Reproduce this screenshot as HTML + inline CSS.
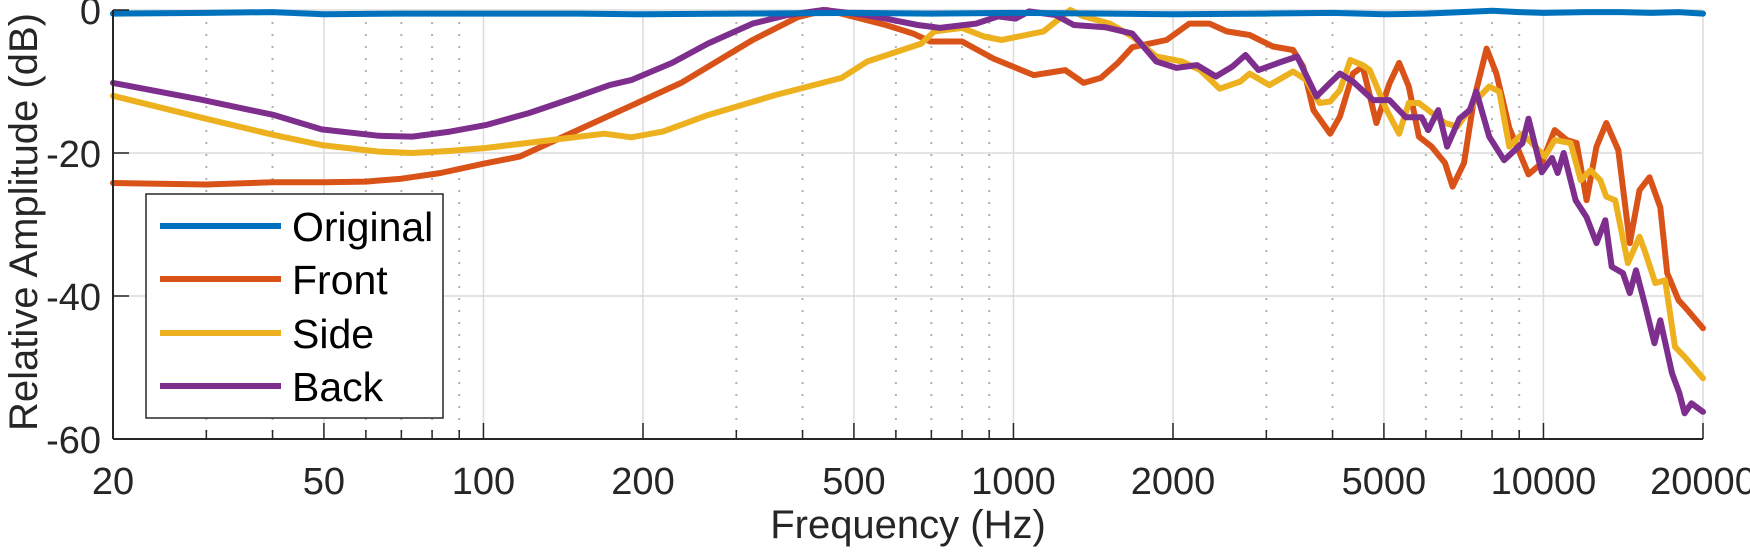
<!DOCTYPE html>
<html><head><meta charset="utf-8"><style>
html,body{margin:0;padding:0;background:#fff;}
svg{display:block;font-family:"Liberation Sans",Arial,sans-serif;}
</style></head><body>
<svg id="chart" width="1750" height="554" viewBox="0 0 1750 554" xmlns="http://www.w3.org/2000/svg">
<g id="grid"></g>
<g id="series"></g>
<g id="axes"></g>
<text x="0" y="0" transform="translate(37,222) rotate(-90)" text-anchor="middle" font-size="40" fill="#262626">Relative Amplitude (dB)</text>
<text x="908" y="538" text-anchor="middle" font-size="40" fill="#262626">Frequency (Hz)</text>
<g>
<rect x="146" y="194" width="297" height="224" fill="#fff" stroke="#262626" stroke-width="1.5"/>
<line x1="160" x2="281" y1="226" y2="226" stroke="#0072BD" stroke-width="6"/>
<text x="292" y="241" font-size="41" fill="#000">Original</text>
<line x1="160" x2="281" y1="279" y2="279" stroke="#D95319" stroke-width="6"/>
<text x="292" y="294" font-size="41" fill="#000">Front</text>
<line x1="160" x2="281" y1="333" y2="333" stroke="#EDB120" stroke-width="6"/>
<text x="292" y="348" font-size="41" fill="#000">Side</text>
<line x1="160" x2="281" y1="386" y2="386" stroke="#7E2F8E" stroke-width="6"/>
<text x="292" y="401" font-size="41" fill="#000">Back</text>
</g>
</svg>
<script>
const xTickLabels = [20,50,100,200,500,1000,2000,5000,10000,20000];
const xMinorTicks = [30,40,60,70,80,90,300,400,600,700,800,900,3000,4000,6000,7000,8000,9000];
const yTickLabels = [0,-20,-40,-60];
const originalF = [20,30,40,50,70,100,150,200,300,500,700,1000,1500,2000,3000,4000,5000,6000,7000,8000,9000,10000,12000,14000,16000,18000,20000];
const originalDb = [-0.5,-0.4,-0.3,-0.6,-0.5,-0.5,-0.5,-0.6,-0.5,-0.4,-0.5,-0.4,-0.5,-0.6,-0.5,-0.4,-0.6,-0.5,-0.3,-0.1,-0.3,-0.4,-0.3,-0.3,-0.4,-0.3,-0.5];
const frontF = [20,30,40,50,60,70,83,100,117,169,236,322,392,445,574,647,697,800,917,1092,1252,1356,1462,1574,1676,1945,2148,2344,2525,2790,3087,3370,3520,3680,3960,4130,4370,4560,4840,5120,5340,5570,5820,6150,6520,6740,7080,7390,7810,8150,8620,9370,9930,10500,11070,11550,12060,12590,13140,13840,14550,15180,15850,16610,17120,17990,18460,20000];
const frontDb = [-24.2,-24.4,-24.1,-24.1,-24,-23.6,-22.8,-21.5,-20.5,-15.1,-10.2,-4.2,-1,0,-2.1,-3.3,-4.4,-4.4,-6.8,-9.1,-8.4,-10.2,-9.5,-7.4,-5.2,-4.2,-1.9,-1.9,-3,-3.5,-5.1,-5.6,-7.9,-14,-17.3,-14.9,-8.9,-7.9,-15.8,-10.3,-7.4,-10.7,-17.7,-19.1,-21.4,-24.7,-21.4,-12.6,-5.4,-8.9,-16.5,-23,-21.4,-16.8,-18.2,-18.6,-26.6,-19.1,-15.8,-19.6,-32.6,-25.2,-23.4,-27.6,-36.8,-40.6,-41.5,-44.5];
const sideF = [20,29.2,40.3,49.5,63.5,73.5,86.5,101,134,169,190,218,265,355,474,530,670,709,800,880,950,1140,1280,1356,1520,1676,1860,2080,2250,2450,2680,2790,3040,3370,3570,3780,3960,4130,4320,4560,4700,5060,5340,5570,5820,6520,6880,7470,7900,8250,8620,9130,9650,10060,10500,11250,11760,12270,12800,13140,13660,14430,15180,15580,16260,16970,17710,18460,20000];
const sideDb = [-12,-15,-17.5,-18.9,-19.8,-20,-19.7,-19.3,-18.2,-17.3,-17.8,-17,-14.7,-11.9,-9.5,-7.2,-4.7,-3,-2.5,-3.7,-4.2,-3,0,-0.9,-1.9,-3.7,-6.5,-7.2,-8.4,-11,-10,-8.9,-10.5,-8.6,-9.8,-13,-12.8,-11.2,-7,-7.7,-8.4,-14,-17.3,-13,-13,-15.8,-16.3,-12.6,-10.7,-11.4,-19.1,-17.3,-19.1,-20.5,-18.2,-18.6,-23.8,-22.4,-23.8,-26.1,-26.6,-35.4,-31.7,-34,-38.2,-37.8,-47.1,-48.5,-51.5];
const backF = [20,29.2,40.3,49.5,63.5,73.5,86.5,101,122,148,173,190,227,265,322,375,438,502,574,660,726,850,935,1010,1070,1200,1300,1490,1676,1860,2030,2220,2410,2590,2740,2900,3160,3430,3730,3960,4130,4370,4770,5120,5500,5890,6060,6330,6580,6940,7260,7470,7900,8430,9130,9370,9930,10380,10640,10920,11500,12060,12590,13080,13450,14120,14550,14950,15580,16190,16610,17480,18050,18460,19020,20000];
const backDb = [-10.2,-12.5,-14.7,-16.7,-17.6,-17.7,-17,-16.1,-14.4,-12.3,-10.5,-9.8,-7.4,-4.7,-1.9,-0.7,0,-0.5,-1.2,-2.1,-2.5,-1.9,-0.9,-1.2,-0.2,-0.7,-2.1,-2.4,-3.3,-7.2,-8.1,-7.7,-9.3,-7.9,-6.3,-8.4,-7.4,-6.5,-12.1,-10.2,-8.9,-10,-12.6,-12.6,-15,-15,-16.8,-14,-19.1,-15.2,-14,-11.4,-17.7,-21,-18.6,-15.2,-22.7,-20.7,-22.8,-20,-26.6,-29,-32.6,-29.4,-35.9,-36.8,-39.6,-36.4,-41.5,-46.6,-43.4,-50.8,-53.6,-56.4,-55,-56.2];

const NS = "http://www.w3.org/2000/svg";
const X0 = 113, X1 = 1703, Y0 = 10, Y1 = 439;
function xScale(f){ return X0 + (X1 - X0) * Math.log10(f / 20) / 3; }
function yScale(db){ return Y0 + (Y1 - Y0) * (-db) / 60; }
function mk(tag, attrs, parent){ const e = document.createElementNS(NS, tag); for (const k in attrs) e.setAttribute(k, attrs[k]); parent.appendChild(e); return e; }

const grid = document.getElementById('grid');
const axes = document.getElementById('axes');
const series = document.getElementById('series');

xTickLabels.forEach(function(f){
  const x = xScale(f);
  if (f !== 20) {
    const g = mk('line', {x1:x, x2:x, y1:Y0, y2:Y1, stroke:'#dcdcdc', 'stroke-width':1.5}, grid);
    
    
  }
  const t = mk('line', {x1:x, x2:x, y1:Y1, y2:Y1-16, stroke:'#262626', 'stroke-width':1.5}, axes);
  
  
  const lab = mk('text', {x:x, y:494, 'text-anchor':'middle', 'font-size':38, fill:'#262626'}, axes);
  lab.textContent = String(f);
  
  
});
xMinorTicks.forEach(function(f){
  const x = xScale(f);
  const g = mk('line', {x1:x, x2:x, y1:Y0, y2:Y1, stroke:'#b0b0b0', 'stroke-width':2, 'stroke-dasharray':'2,10'}, grid);
  
  
  const t = mk('line', {x1:x, x2:x, y1:Y1, y2:Y1-9, stroke:'#262626', 'stroke-width':1.5}, axes);
  
  
});
yTickLabels.forEach(function(v){
  const y = yScale(v);
  if (v !== -60) {
    const g = mk('line', {x1:X0, x2:X1, y1:y, y2:y, stroke:'#dcdcdc', 'stroke-width':1.5}, grid);
    
    
  }
  const t = mk('line', {x1:X0, x2:X0+16, y1:y, y2:y, stroke:'#262626', 'stroke-width':1.5}, axes);
  
  
  const lab = mk('text', {x:X0-12, y:y+14, 'text-anchor':'end', 'font-size':38, fill:'#262626'}, axes);
  lab.textContent = String(v);
  
  
});
const xa = mk('line', {x1:X0, x2:X1, y1:Y1, y2:Y1, stroke:'#262626', 'stroke-width':2}, axes);


const ya = mk('line', {x1:X0, x2:X0, y1:Y0, y2:Y1, stroke:'#262626', 'stroke-width':2}, axes);



function drawLine(fs, dbs, color, name){
  let d = '';
  for (let i = 0; i < fs.length; i++) d += (i ? 'L' : 'M') + xScale(fs[i]).toFixed(1) + ',' + yScale(dbs[i]).toFixed(1);
  const p = mk('path', {d:d, fill:'none', stroke:color, 'stroke-width':6, 'stroke-linejoin':'round', 'stroke-linecap':'round'}, series);
  
  
}
drawLine(frontF, frontDb, '#D95319', 'front-line');
drawLine(sideF, sideDb, '#EDB120', 'side-line');
drawLine(backF, backDb, '#7E2F8E', 'back-line');
drawLine(originalF, originalDb, '#0072BD', 'original-line');
</script>
</body></html>
